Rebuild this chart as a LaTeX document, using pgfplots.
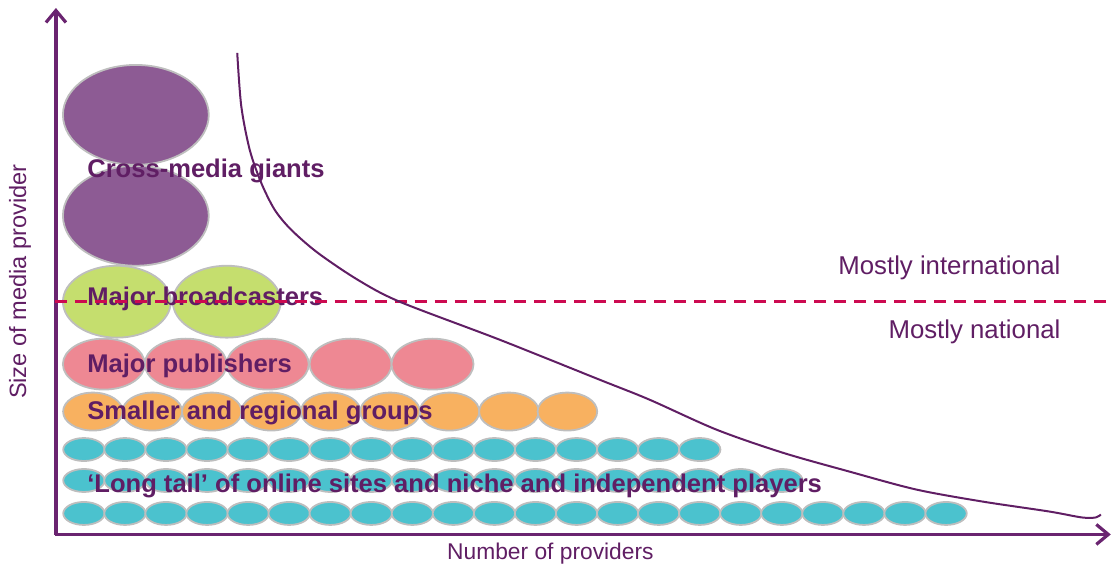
\documentclass[border=0pt]{standalone}
\usepackage{pgfplots}
\pgfplotsset{compat=1.18}
\usetikzlibrary{arrows.meta}
\usepackage{fontspec}
\setmainfont{Liberation Sans}
\definecolor{axpurple}{RGB}{106,36,112}
\definecolor{txtpurple}{RGB}{96,30,100}
\definecolor{giant}{RGB}{141,91,148}
\definecolor{bgreen}{RGB}{197,222,110}
\definecolor{pubpink}{RGB}{238,136,147}
\definecolor{regorange}{RGB}{248,177,96}
\definecolor{tailteal}{RGB}{75,194,206}
\definecolor{rim}{RGB}{190,190,190}
\definecolor{dashred}{RGB}{204,10,80}
\begin{document}
\begin{tikzpicture}
\begin{axis}[
  scale only axis, width=557pt, height=284.5pt,
  xmin=0, xmax=1114, ymin=0, ymax=569, y dir=reverse,
  hide axis, clip=false, clip marker paths=true,
]
% frame for bounding box
\addplot[draw=none] coordinates {(0,0) (1114,569)};
% axes arrows
\addplot[axpurple, line width=1.6pt, -{Straight Barb[length=6pt,width=10pt,line width=1.6pt]}] coordinates {(56,535.5) (56,8)};
\addplot[axpurple, line width=1.6pt, -{Straight Barb[length=6pt,width=10pt,line width=1.6pt]}] coordinates {(55,535) (1112,535)};
% cross-media giants
\addplot[only marks, mark=*, mark size=25pt, mark options={xscale=1.46, fill=giant, draw=rim, line width=0.9pt}] coordinates {(136,115) (136,216)};
% broadcasters
\addplot[only marks, mark=*, mark size=18pt, mark options={xscale=1.5, fill=bgreen, draw=rim, line width=0.9pt}] coordinates {(117,302) (227,302)};
% publishers
\addplot[only marks, mark=*, mark size=12.75pt, mark options={xscale=1.61, fill=pubpink, draw=rim, line width=0.9pt}] coordinates {(104,364.5) (186,364.5) (268,364.5) (351,364.5) (433,364.5)};
% smaller and regional groups
\addplot[only marks, mark=*, mark size=9.5pt, mark options={xscale=1.57, fill=regorange, draw=rim, line width=0.9pt}] coordinates {(93,412) (152.5,412) (212,412) (271.5,412) (331,412) (390.5,412) (450,412) (509.5,412) (568,412)};
% long tail rows
\addplot[only marks, mark=*, mark size=5.75pt, mark options={xscale=1.8, fill=tailteal, draw=rim, line width=0.9pt}] coordinates {
(84,450) (125.1,450) (166.2,450) (207.3,450) (248.4,450) (289.5,450) (330.6,450) (371.7,450)
(412.8,450) (453.9,450) (495,450) (536.1,450) (577.2,450) (618.3,450) (659.4,450) (700.5,450)};
\addplot[only marks, mark=*, mark size=5.75pt, mark options={xscale=1.8, fill=tailteal, draw=rim, line width=0.9pt}] coordinates {
(84,481) (125.1,481) (166.2,481) (207.3,481) (248.4,481) (289.5,481) (330.6,481) (371.7,481)
(412.8,481) (453.9,481) (495,481) (536.1,481) (577.2,481) (618.3,481) (659.4,481) (700.5,481)
(741.6,481) (782.7,481)};
\addplot[only marks, mark=*, mark size=5.75pt, mark options={xscale=1.8, fill=tailteal, draw=rim, line width=0.9pt}] coordinates {
(84,514) (125.1,514) (166.2,514) (207.3,514) (248.4,514) (289.5,514) (330.6,514) (371.7,514)
(412.8,514) (453.9,514) (495,514) (536.1,514) (577.2,514) (618.3,514) (659.4,514) (700.5,514)
(741.6,514) (782.7,514) (823.8,514) (864.9,514) (906,514) (947.1,514)};
% labels
\begin{scope}[every node/.style={text=txtpurple, font=\fontsize{12.8}{15}\selectfont\bfseries, anchor=base west, inner sep=0pt}]
\node at (axis cs:87,178) {Cross-media giants};
\node at (axis cs:87,305.5) {Major broadcasters};
\node at (axis cs:87,372.5) {Major publishers};
\node at (axis cs:87,420) {Smaller and regional groups};
\node at (axis cs:87,493.5) {‘Long tail’ of online sites and niche and independent players};
\end{scope}
\node[text=txtpurple, font=\fontsize{12.9}{15}\selectfont, anchor=base east, inner sep=0pt] at (axis cs:1062,275) {Mostly international};
\node[text=txtpurple, font=\fontsize{12.9}{15}\selectfont, anchor=base east, inner sep=0pt] at (axis cs:1062,339) {Mostly national};
\node[text=txtpurple, font=\fontsize{11.4}{14}\selectfont, anchor=base, inner sep=0pt] at (axis cs:551,560) {Number of providers};
\node[text=txtpurple, font=\fontsize{11.8}{14}\selectfont, inner sep=0pt, rotate=90] at (axis cs:20,282) {Size of media provider};
% dashed boundary
\addplot[dashred, line width=1.2pt, dash pattern=on 6pt off 4pt] coordinates {(55,302) (1114,302)};
% curve
\addplot[txtpurple, line width=1pt, smooth, tension=0.5] coordinates {
(237.5,53) (241.5,106) (250,150) (261.5,183) (275,210) (291.5,230) (318,253) (358,280) (400,302)
(500,340) (600,380) (650,400) (717,430) (783,453) (850,472) (917,490) (983,502) (1050,512) (1083,518) (1097,518) (1102,515)};
\end{axis}
\end{tikzpicture}
\end{document}
